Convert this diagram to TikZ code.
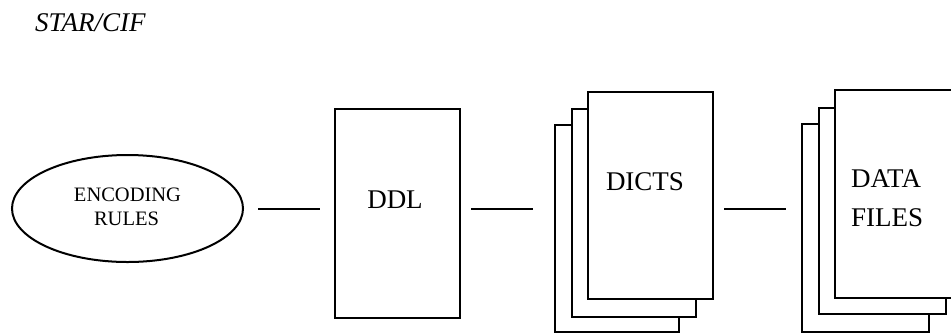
\documentclass[tikz,border=0pt]{standalone}
\usepackage{fontspec}
\setmainfont{Liberation Serif}
\usetikzlibrary{shapes.geometric}
\begin{document}
\begin{tikzpicture}[x=1pt,y=-1pt,
  sheet/.style={draw=black, fill=white, line width=2.2pt, rectangle, inner sep=0pt, anchor=north west},
  conn/.style={draw=black, line width=2pt},
  bigtext/.style={inner sep=0pt, font=\fontsize{27}{37}\selectfont},
  smalltext/.style={inner sep=0pt, font=\fontsize{20.5}{24}\selectfont}]
\useasboundingbox (0,0) rectangle (951,333);
\clip (0,0) rectangle (951,333);
\fill[white] (0,0) rectangle (951,333);

% title
\node[inner sep=0pt, anchor=base west, font=\fontsize{27}{32}\selectfont\itshape] (title) at (35,31) {STAR/CIF};

% encoding rules ellipse
\node[ellipse, draw=black, line width=2pt, minimum width=231pt, minimum height=107pt, inner sep=0pt] (enc) at (127.5,208.5) {};
\node[smalltext, anchor=base] (enc1) at (127.5,201) {ENCODING};
\node[smalltext, anchor=base] (enc2) at (126.5,225) {RULES};

% DDL box
\node[sheet, minimum width=125pt, minimum height=209pt] (ddl) at (334,108) {};
\node[bigtext, anchor=base] (ddltext) at (395,208) {DDL};

% DICTS stack
\node[sheet, minimum width=124pt, minimum height=207pt] (dictsC) at (554,124) {};
\node[sheet, minimum width=124pt, minimum height=208pt] (dictsB) at (571,108) {};
\node[sheet, minimum width=125pt, minimum height=207pt] (dictsA) at (587,91) {};
\node[bigtext, anchor=base] (dictstext) at (645,190) {DICTS};

% DATA FILES stack
\node[sheet, minimum width=127pt, minimum height=208pt] (dataC) at (801,123) {};
\node[sheet, minimum width=127pt, minimum height=206pt] (dataB) at (818,107) {};
\node[sheet, minimum width=128pt, minimum height=208pt] (dataA) at (834,89) {};
\node[bigtext, anchor=base west] (data1) at (851,187) {DATA};
\node[bigtext, anchor=base west] (data2) at (851,226) {FILES};

% connectors
\draw[conn, shorten <=14pt, shorten >=14pt] (enc.east) -- (enc.east -| ddl.west);
\draw[conn, shorten <=10pt, shorten >=21pt] (enc.east -| ddl.east) -- (enc.east -| dictsC.west);
\draw[conn, shorten <=10pt, shorten >=15pt] (enc.east -| dictsA.east) -- (enc.east -| dataC.west);
\end{tikzpicture}
\end{document}
